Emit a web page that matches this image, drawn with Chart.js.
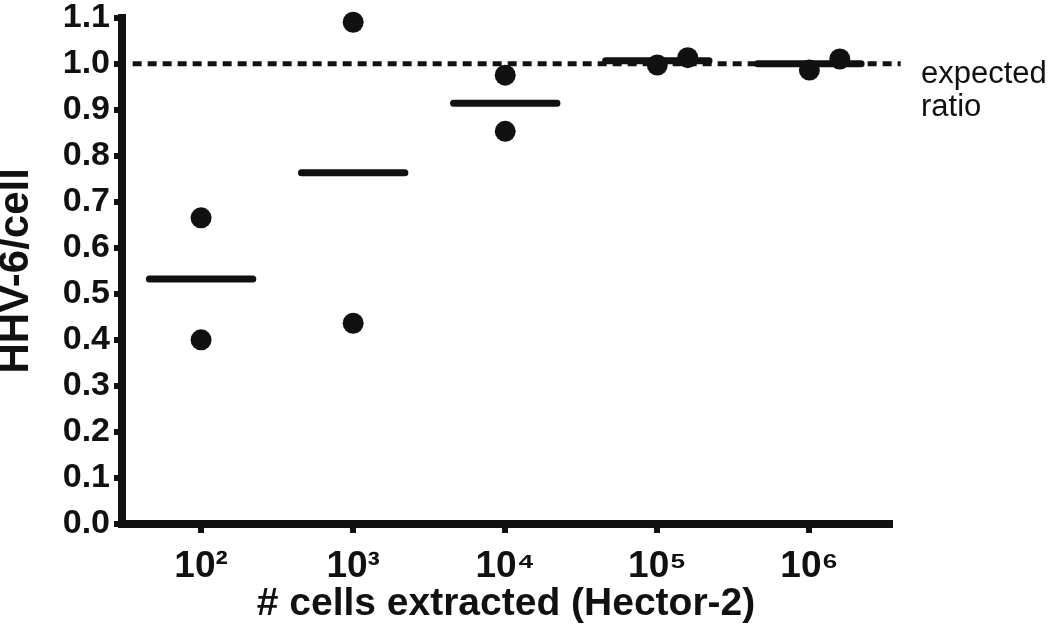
<!DOCTYPE html>
<html>
<head>
<meta charset="utf-8">
<title>HHV-6/cell</title>
<script src="https://cdn.jsdelivr.net/npm/chart.js@4.4.0/dist/chart.umd.min.js"></script>
<style>
  html, body { margin: 0; padding: 0; background: #fff; }
  canvas { display: block; }
</style>
</head>
<body>
<canvas id="scatterChart" width="1050" height="637"></canvas>
<script>
// data
var categories = ['10\u00B2', '10\u00B3', '10\u2074', '10\u2075', '10\u2076'];
var replicateA = [0.665, 1.09, 0.975, 0.997, 0.986];
var replicateB = [0.400, 0.436, 0.853, 1.013, 1.010];
// horizontal shift of the 2nd point where the two overlap (category units)
var jitterB = [0, 0, 0, 0.2, 0.2];
var means = [0.532, 0.763, 0.914, 1.006, 1.000];
var expectedRatio = 1.0;
var yTicks = [0, 0.1, 0.2, 0.3, 0.4, 0.5, 0.6, 0.7, 0.8, 0.9, 1.0, 1.1];

var ink = '#111';
var fontFamily = '"Liberation Sans", Arial, Helvetica, sans-serif';
var meanHalfWidth = 0.34;

var pointData = [];
var meanData = [];
for (var i = 0; i < categories.length; i++) {
  pointData.push({x: i + 1, y: replicateA[i]});
  pointData.push({x: i + 1 + jitterB[i], y: replicateB[i]});
  meanData.push({x: i + 1 - meanHalfWidth, y: means[i]});
  meanData.push({x: i + 1 + meanHalfWidth, y: means[i]});
  meanData.push({x: i + 1.5, y: null});
}

var expectedLabel = {
  id: 'expectedLabel',
  afterDraw: function(chart) {
    var ctx = chart.ctx;
    var y = chart.scales.y.getPixelForValue(expectedRatio);
    ctx.save();
    ctx.fillStyle = ink;
    ctx.font = '31px ' + fontFamily;
    ctx.textAlign = 'left';
    ctx.textBaseline = 'alphabetic';
    ctx.fillText('expected', 921, y + 19);
    ctx.fillText('ratio', 921, y + 52);
    ctx.restore();
  }
};

var ctx = document.getElementById('scatterChart').getContext('2d');
var myChart = new Chart(ctx, {
  type: 'scatter',
  data: {
    datasets: [
      {
        label: 'replicates',
        data: pointData,
        showLine: false,
        pointRadius: 10.5,
        pointBackgroundColor: ink,
        pointBorderColor: ink,
        pointBorderWidth: 0,
        clip: false
      },
      {
        label: 'mean',
        type: 'line',
        data: meanData,
        showLine: true,
        spanGaps: false,
        borderColor: ink,
        borderWidth: 7,
        borderCapStyle: 'round',
        pointRadius: 0,
        clip: false
      },
      {
        label: 'expected ratio',
        type: 'line',
        data: [{x: 0.55, y: expectedRatio}, {x: 5.6, y: expectedRatio}],
        borderColor: ink,
        borderWidth: 5,
        borderDash: [9, 6],
        pointRadius: 0,
        clip: false
      }
    ]
  },
  options: {
    responsive: false,
    animation: false,
    devicePixelRatio: 1,
    layout: { padding: { top: 14, right: 160, left: 0, bottom: 0 } },
    plugins: {
      legend: { display: false },
      tooltip: { enabled: false }
    },
    scales: {
      x: {
        type: 'linear',
        min: 0.48,
        max: 5.53,
        afterFit: function(scale) { scale.height = 113; },
        afterBuildTicks: function(scale) {
          scale.ticks = categories.map(function(c, i) { return {value: i + 1}; });
        },
        border: { display: true, width: 8, color: ink },
        grid: { drawOnChartArea: false, drawTicks: true, tickLength: 9, lineWidth: 6, color: ink },
        ticks: {
          padding: 12,
          color: ink,
          maxRotation: 0,
          font: { family: fontFamily, size: 37, weight: 'bold' },
          callback: function(v) { return categories[Math.round(v) - 1]; }
        },
        title: {
          display: true,
          text: '# cells extracted (Hector-2)',
          color: ink,
          padding: { top: 0, bottom: 9 },
          font: { family: fontFamily, size: 39, weight: 'bold' }
        }
      },
      y: {
        min: 0,
        max: 1.1,
        afterFit: function(scale) { scale.width = 122; },
        afterBuildTicks: function(scale) {
          scale.ticks = yTicks.map(function(v) { return {value: v}; });
        },
        border: { display: true, width: 8, color: ink },
        grid: { drawOnChartArea: false, drawTicks: true, tickLength: 8, lineWidth: 6, color: ink },
        ticks: {
          padding: 4,
          color: ink,
          font: { family: fontFamily, size: 34, weight: 'bold', lineHeight: 0.8 },
          callback: function(v) { return v.toFixed(1); }
        },
        title: {
          display: true,
          text: 'HHV-6/cell',
          color: ink,
          padding: 0,
          font: { family: fontFamily, size: 42, weight: 'bold', lineHeight: 0.8 }
        }
      }
    }
  },
  plugins: [expectedLabel]
});
</script>
</body>
</html>
